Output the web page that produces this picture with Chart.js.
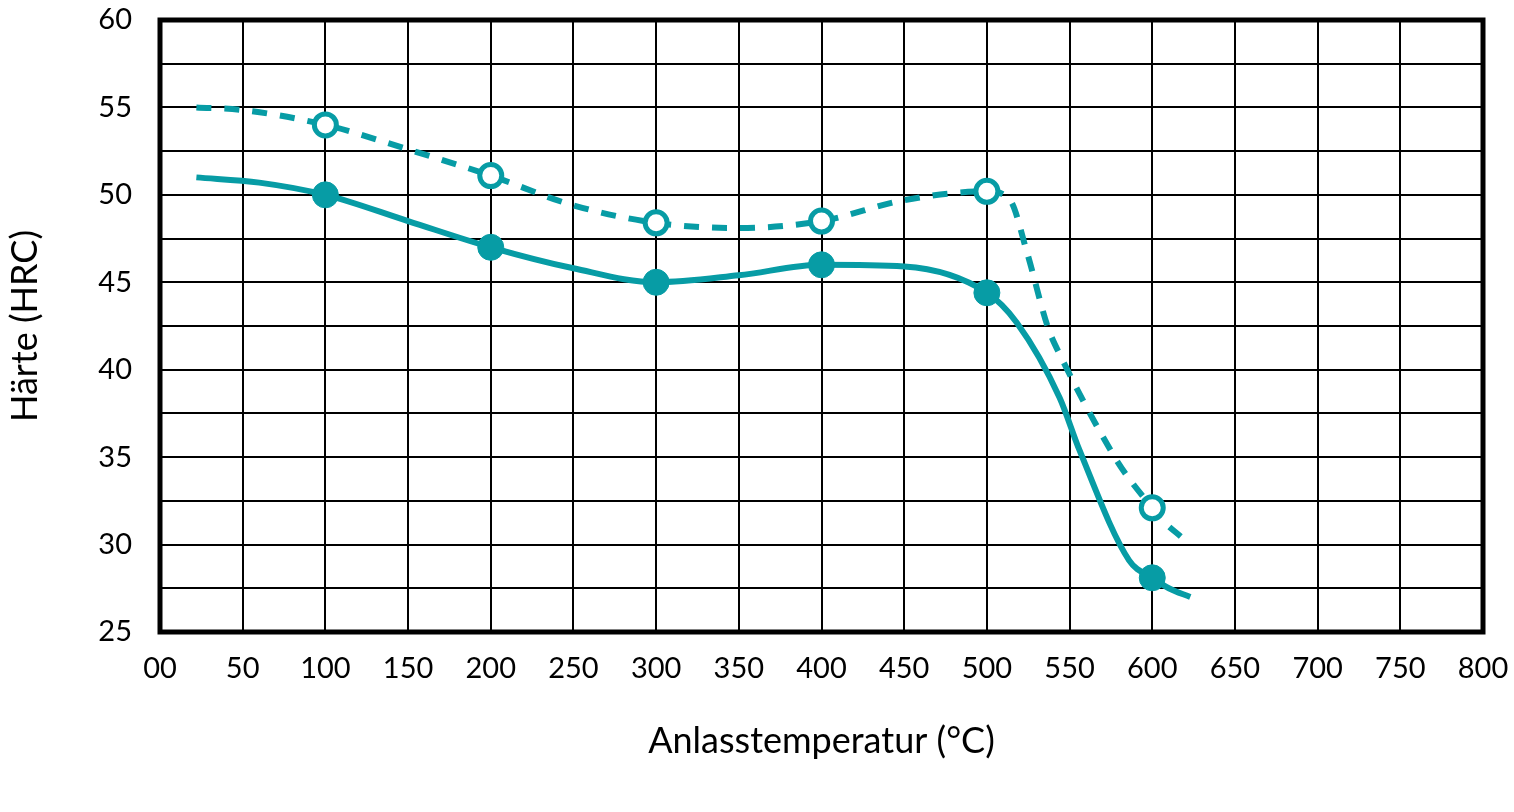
<!DOCTYPE html>
<html>
<head>
<meta charset="utf-8">
<script src="https://cdn.jsdelivr.net/npm/chart.js@4/dist/chart.umd.min.js"></script>
<style>
  html, body { margin: 0; padding: 0; background: #fff; }
  #wrap { width: 1514px; height: 812px; }
</style>
</head>
<body>
<div id="wrap"><canvas id="c" width="1514" height="812"></canvas></div>
<script>
// Marker points (measured)
const markerTemps = [100, 200, 300, 400, 500, 600];
const solidMarkers = [50.0, 47.0, 45.0, 46.0, 44.4, 28.1];
const dashedMarkers = [54.0, 51.1, 48.4, 48.5, 50.2, 32.1];

// Curve traces
const solidCurveX = [22, 60, 100, 150, 200, 250, 300, 350, 400, 450, 500, 518, 544, 556, 586, 600, 610, 623];
const solidCurveY = [51.0, 50.7, 50.0, 48.5, 47.0, 45.8, 45.0, 45.4, 46.0, 45.9, 44.4, 42.7, 38.4, 35.4, 29.1, 28.1, 27.5, 27.0];
const dashedCurveX = [22, 50, 100, 150, 200, 250, 300, 350, 400, 450, 500, 514, 524, 537, 545, 576, 585, 600, 606, 618];
const dashedCurveY = [55.0, 54.85, 54.0, 52.6, 51.1, 49.4, 48.4, 48.1, 48.5, 49.7, 50.2, 49.7, 46.8, 42.4, 40.7, 35.2, 33.9, 32.1, 31.4, 30.4];

const xTicks = [0, 50, 100, 150, 200, 250, 300, 350, 400, 450, 500, 550, 600, 650, 700, 750, 800];
const xTickLabels = ['00', '50', '100', '150', '200', '250', '300', '350', '400', '450', '500', '550', '600', '650', '700', '750', '800'];
const yTickLabels = ['25', '30', '35', '40', '45', '50', '55', '60'];

const xTitle = 'Anlasstemperatur (°C)';
const yTitle = 'Härte (HRC)';

const TEAL = '#079ca5';
const FONT = "'Lato', 'DejaVu Sans', sans-serif";

const toXY = (xs, ys) => xs.map((x, i) => ({ x, y: ys[i] }));

const framePlugin = {
  id: 'frame',
  beforeDatasetsDraw(chart) {
    const { ctx, chartArea: a } = chart;
    ctx.save();
    ctx.strokeStyle = '#000';
    ctx.lineWidth = 5;
    ctx.strokeRect(a.left, a.top, a.right - a.left, a.bottom - a.top);
    ctx.restore();
  }
};

new Chart(document.getElementById('c'), {
  type: 'scatter',
  data: {
    datasets: [
      {
        data: toXY(markerTemps, solidMarkers),
        showLine: false,
        pointRadius: 13,
        pointBackgroundColor: TEAL,
        pointBorderColor: TEAL,
        pointBorderWidth: 1,
        order: 0
      },
      {
        data: toXY(markerTemps, dashedMarkers),
        showLine: false,
        pointRadius: 11,
        pointBackgroundColor: '#fff',
        pointBorderColor: TEAL,
        pointBorderWidth: 5,
        order: 0
      },
      {
        data: toXY(solidCurveX, solidCurveY),
        showLine: true,
        borderColor: TEAL,
        borderWidth: 6,
        pointRadius: 0,
        cubicInterpolationMode: 'monotone',
        fill: false,
        order: 1
      },
      {
        data: toXY(dashedCurveX, dashedCurveY),
        showLine: true,
        borderColor: TEAL,
        borderWidth: 6,
        borderDash: [15, 13],
        pointRadius: 0,
        cubicInterpolationMode: 'monotone',
        fill: false,
        order: 1
      }
    ]
  },
  options: {
    responsive: false,
    animation: false,
    devicePixelRatio: 1,
    layout: { padding: { top: 20, right: 31, left: 0, bottom: 0 } },
    plugins: { legend: { display: false }, tooltip: { enabled: false } },
    scales: {
      x: {
        type: 'linear',
        min: 0, max: 800,
        afterBuildTicks(scale) { scale.ticks = xTicks.map(v => ({ value: v })); },
        afterFit(scale) { scale.height = 180; scale.paddingLeft = 0; scale.paddingRight = 0; },
        grid: { color: '#000', lineWidth: 2, drawTicks: false },
        border: { display: false },
        ticks: {
          padding: 19,
          color: '#000',
          font: { family: FONT, size: 29 },
          maxRotation: 0,
          autoSkip: false,
          callback: (v) => { const i = xTicks.indexOf(v); return i >= 0 ? xTickLabels[i] : ''; }
        },
        title: {
          display: true,
          text: xTitle,
          color: '#000',
          font: { family: FONT, size: 36 },
          padding: { top: 0, bottom: 49 }
        }
      },
      y: {
        type: 'linear',
        min: 25, max: 60,
        ticks: {
          stepSize: 2.5,
          padding: 28,
          color: '#000',
          font: { family: FONT, size: 29 },
          autoSkip: false,
          callback: (v) => { const s = String(v); return yTickLabels.includes(s) ? s : ''; }
        },
        afterFit(scale) { scale.width = 160; scale.paddingTop = 0; scale.paddingBottom = 0; },
        grid: { color: '#000', lineWidth: 2, drawTicks: false },
        border: { display: false },
        title: {
          display: true,
          text: yTitle,
          color: '#000',
          font: { family: FONT, size: 36 },
          padding: { bottom: 0 }
        }
      }
    }
  },
  plugins: [framePlugin]
});
</script>
</body>
</html>
